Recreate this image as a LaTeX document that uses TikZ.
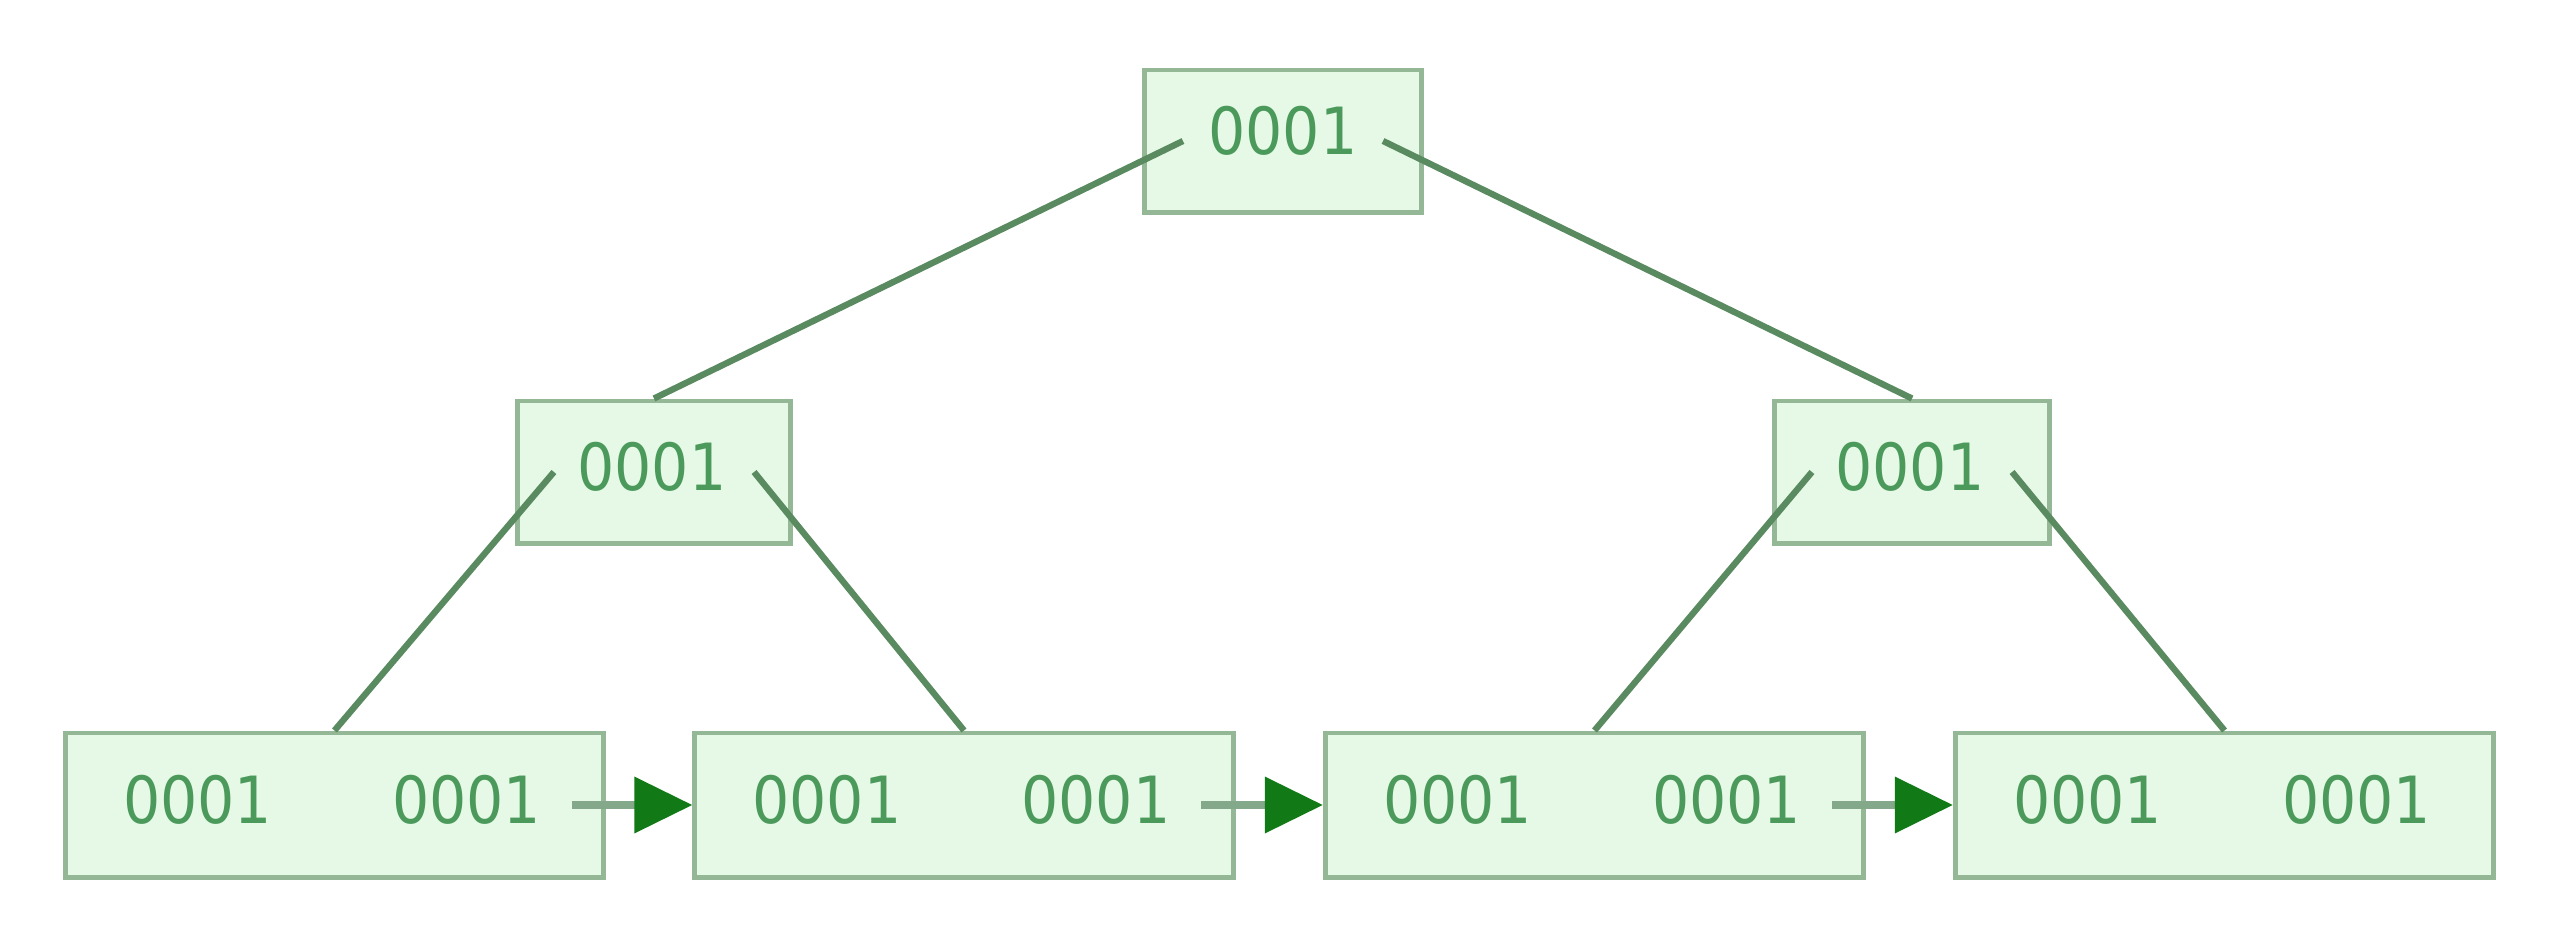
\documentclass[tikz,border=0pt]{standalone}
\usepackage{fontspec}
\setmainfont{DejaVu Sans Condensed}
\usetikzlibrary{arrows.meta,calc}

\definecolor{boxfill}{HTML}{E6F9E6}
\definecolor{boxline}{HTML}{94B896}
\definecolor{keytext}{HTML}{4B9A5C}
\definecolor{treeline}{HTML}{5A8A60}
\definecolor{headgreen}{HTML}{117A17}
\definecolor{shaft}{HTML}{84A88A}

\tikzset{
  box/.style={draw=boxline, fill=boxfill, line width=1.4pt, inner sep=0pt, minimum height=1.42cm},
  innerbox/.style={box, minimum width=2.74cm},
  leafbox/.style={box, minimum width=5.38cm, minimum height=1.44cm},
  key/.style={text=keytext, font=\fontsize{18.5}{18.5}\selectfont, inner sep=0pt},
  branch/.style={draw=treeline, line width=1.8pt},
  nextarrow/.style={draw=shaft, line width=2pt,
    -{Triangle[length=0.58cm, width=0.55cm, color=headgreen]}}
}

\begin{document}
\begin{tikzpicture}[x=0.01cm, y=-0.01cm]
  \path[use as bounding box] (0,0) rectangle (2560,945);

  % root
  \node[innerbox, minimum width=2.77cm] (root) at (1283,141) {};
  \node[key] (rootk) at (1283,131) {0001};

  % inner level
  \node[innerbox, minimum width=2.72cm] (ml) at (654,472) {};
  \node[key] (mlk) at (652,467) {0001};
  \node[innerbox] (mr) at (1912,472) {};
  \node[key] (mrk) at (1910,467) {0001};

  % leaves, each with two keys
  \foreach \i/\cx in {1/334.5, 2/964, 3/1594.5, 4/2224.5} {
    \node[leafbox] (l\i) at (\cx,805) {};
    \node[key] (l\i a) at (\cx-137,800) {0001};
    \node[key] (l\i b) at (\cx+132,800) {0001};
  }

  % tree branches
  \draw[branch] ([xshift=-1cm]root.center) -- (ml.north);
  \draw[branch] ([xshift=1cm]root.center) -- (mr.north);
  \draw[branch] ([xshift=-1cm]ml.center) -- (l1.north);
  \draw[branch] ([xshift=1cm]ml.center) -- (l2.north);
  \draw[branch] ([xshift=-1cm]mr.center) -- (l3.north);
  \draw[branch] ([xshift=1cm]mr.center) -- (l4.north);

  % leaf chain, horizontal links between neighbouring leaves
  \draw[nextarrow] ($(l1.center -| l1b.east)+(30,0)$) -- (l2.west);
  \draw[nextarrow] ($(l2.center -| l2b.east)+(30,0)$) -- (l3.west);
  \draw[nextarrow] ($(l3.center -| l3b.east)+(30,0)$) -- (l4.west);
\end{tikzpicture}
\end{document}
